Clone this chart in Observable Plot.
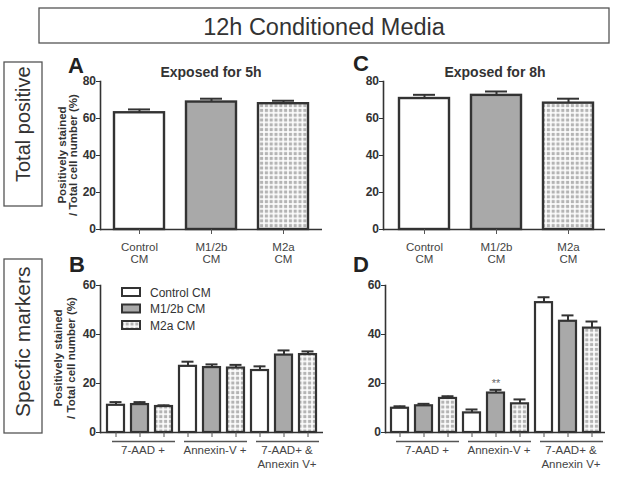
<!DOCTYPE html>
<html><head><meta charset="utf-8">
<script src="https://cdn.jsdelivr.net/npm/d3@7"></script>
<script src="https://cdn.jsdelivr.net/npm/@observablehq/plot@0.6"></script>
<style>
body{margin:0;background:#fff;}
#root{position:relative;width:642px;height:480px;overflow:hidden;background:#fff;font-family:"Liberation Sans",Arial,sans-serif;}
#root svg{position:absolute;overflow:visible;}
</style></head><body><div id="root"></div>
<script>
// ---------- data ----------
const series = ["Control CM", "M1/2b CM", "M2a CM"];
const seriesFill = ["#ffffff", "#a9a9a9", "url(#checker)"];
const totalTickLabels = ["Control\nCM", "M1/2b\nCM", "M2a\nCM"];
const markers = ["7-AAD +", "Annexin-V +", "7-AAD+ &\nAnnexin V+"];

// Panel A: exposed for 5h, total positive
const aMean = [63.1, 68.9, 68.0];
const aErr  = [1.8, 1.8, 1.6];
// Panel C: exposed for 8h, total positive
const cMean = [70.8, 72.5, 68.3];
const cErr  = [2.0, 2.1, 2.4];

// Panel B: exposed for 5h, specific markers (per series, by marker)
const bControl = [11.1, 27.0, 25.3];  const bControlErr = [1.3, 1.9, 1.7];
const bM1      = [11.4, 26.5, 31.6];  const bM1Err      = [1.0, 1.3, 1.9];
const bM2a     = [10.6, 26.3, 31.8];  const bM2aErr     = [0.5, 1.3, 1.3];
// Panel D: exposed for 8h, specific markers
const dControl = [9.9, 8.0, 53.0];    const dControlErr = [0.8, 1.4, 2.2];
const dM1      = [10.9, 16.1, 45.4];  const dM1Err      = [0.8, 1.3, 2.4];
const dM2a     = [13.9, 11.7, 42.6];  const dM2aErr     = [0.9, 1.8, 2.7];
const dSignif  = [{marker: "Annexin-V +", series: "M1/2b CM", label: "**"}];

const panelTitles = ["Exposed for 5h", "Exposed for 8h"];
const panelLetters = ["A", "B", "C", "D"];
const sideLabels = ["Total positive", "Specfic markers"];
const yLabelLines = ["Positively stained", "/ Total cell number (%)"];
const mainTitle = "12h Conditioned Media";

// ---------- helpers ----------
const FONT = '"Liberation Sans", Arial, sans-serif';
const INK = "#333";
const root = document.getElementById("root");

function place(el, left, top) {
  el.style.position = "absolute";
  el.style.left = left + "px";
  el.style.top = top + "px";
  root.appendChild(el);
}

function totalPanel(means, errs, o) {
  const rows = series.map((s, i) => ({key: s, mean: means[i], err: errs[i]}));
  return Plot.plot({
    width: o.width, height: o.height,
    marginLeft: o.ml, marginRight: o.mr, marginTop: o.mt, marginBottom: o.mb,
    style: {fontFamily: FONT, fontSize: "12px", color: INK, background: "transparent", overflow: "visible"},
    x: {type: "band", domain: series, range: o.xRange, paddingInner: 0.31, paddingOuter: 0, label: null},
    y: {domain: [0, 80], label: null},
    color: {type: "ordinal", domain: series, range: seriesFill},
    marks: [
      Plot.barY(rows, {x: "key", y: "mean", fill: "key", stroke: INK, strokeWidth: 2.4}),
      Plot.ruleX(rows, {x: "key", y1: "mean", y2: d => d.mean + d.err, stroke: INK, strokeWidth: 2}),
      Plot.tickY(rows, {x: "key", y: d => d.mean + d.err, stroke: INK, strokeWidth: 2, insetLeft: 14, insetRight: 14}),
      Plot.frame({anchor: "left", stroke: INK, strokeWidth: 1.6}),
      Plot.ruleY([0], {stroke: INK, strokeWidth: 1.6}),
      Plot.axisY({ticks: [0, 20, 40, 60, 80], tickSize: 4, tickPadding: 0.5, fontWeight: "bold", fontSize: 12, stroke: INK, fill: INK, label: null}),
      Plot.axisX({tickSize: 5, tickPadding: 8, tickFormat: d => totalTickLabels[series.indexOf(d)], lineHeight: 1.05, fontSize: 11.5, fill: "#444", stroke: "#555", label: null})
    ]
  });
}

function markerPanel(vals, errs, signif, o) {
  const keys = markers.flatMap(m => series.map(s => m + "|" + s));
  const rows = [];
  markers.forEach((m, j) => series.forEach((s, i) => {
    rows.push({key: m + "|" + s, marker: m, series: s, mean: vals[i][j], err: errs[i][j]});
  }));
  const groups = markers.map(m => ({m, k1: m + "|" + series[0], k2: m + "|" + series[1], k3: m + "|" + series[2]}));
  const sig = signif.map(d => {
    const r = rows.find(r => r.marker === d.marker && r.series === d.series);
    return {key: r.key, top: r.mean + r.err, label: d.label};
  });
  return Plot.plot({
    width: o.width, height: o.height,
    marginLeft: o.ml, marginRight: o.mr, marginTop: o.mt, marginBottom: o.mb,
    style: {fontFamily: FONT, fontSize: "12px", color: INK, background: "transparent", overflow: "visible"},
    x: {type: "band", domain: keys, range: o.xRange, paddingInner: 0.306, paddingOuter: 0, label: null},
    y: {domain: [0, 60], label: null},
    color: {type: "ordinal", domain: series, range: seriesFill},
    marks: [
      Plot.barY(rows, {x: "key", y: "mean", fill: "series", stroke: INK, strokeWidth: 2.2}),
      Plot.ruleX(rows, {x: "key", y1: "mean", y2: d => d.mean + d.err, stroke: INK, strokeWidth: 2}),
      Plot.tickY(rows, {x: "key", y: d => d.mean + d.err, stroke: INK, strokeWidth: 2, insetLeft: 2.5, insetRight: 2.5}),
      Plot.text(sig, {x: "key", y: "top", text: "label", dy: -3, lineAnchor: "bottom", fontSize: 11, fill: "#666"}),
      Plot.frame({anchor: "left", stroke: INK, strokeWidth: 1.6}),
      Plot.ruleY([0], {stroke: INK, strokeWidth: 1.6}),
      Plot.axisY({ticks: [0, 20, 40, 60], tickSize: 4, tickPadding: 0.5, fontWeight: "bold", fontSize: 12, stroke: INK, fill: INK, label: null}),
      Plot.axisX({tickSize: 5, tickFormat: () => "", stroke: "#555", label: null}),
      Plot.ruleY(groups, {y: () => 0, x1: "k1", x2: "k3", dy: 9, insetLeft: 5, insetRight: -3, stroke: "#555", strokeWidth: 1.5}),
      Plot.text(groups, {x: "k2", y: () => 0, text: "m", dy: 11, dx: 3, lineAnchor: "top", lineHeight: 1.25, fontSize: 11.5, fill: "#444"})
    ]
  });
}

// ---------- overlay: titles, boxes, labels, legend ----------
const ov = d3.select(root).append("svg")
  .attr("width", 642).attr("height", 480)
  .style("left", "0px").style("top", "0px")
  .style("font-family", FONT);

const defs = ov.append("defs");
const pat = defs.append("pattern").attr("id", "checker")
  .attr("patternUnits", "userSpaceOnUse").attr("width", 4.8).attr("height", 4.8);
pat.append("rect").attr("width", 4.8).attr("height", 4.8).attr("fill", "#fff");
pat.append("rect").attr("x", 0.8).attr("y", 0.8).attr("width", 3.2).attr("height", 3.2).attr("fill", "#b4b4b4");

// main title box
ov.append("rect").attr("x", 39).attr("y", 8).attr("width", 570).attr("height", 35)
  .attr("fill", "none").attr("stroke", "#555").attr("stroke-width", 1.3);
ov.append("text").attr("x", 324).attr("y", 34.5).attr("text-anchor", "middle")
  .attr("font-size", 23.5).attr("fill", INK).text(mainTitle);

// side boxes
const sideBoxes = [{y: 62, h: 144, base: 182, fs: 20}, {y: 259, h: 174, base: 417, fs: 21}];
sideBoxes.forEach((b, i) => {
  ov.append("rect").attr("x", 4).attr("y", b.y).attr("width", 38).attr("height", b.h)
    .attr("fill", "none").attr("stroke", "#555").attr("stroke-width", 1.3);
  ov.append("text").attr("transform", `translate(30,${b.base}) rotate(-90)`)
    .attr("font-size", b.fs).attr("fill", INK).text(sideLabels[i]);
});

// panel letters
const letterPos = [[68, 73], [69, 272], [353, 71], [353, 272]];
panelLetters.forEach((L, i) => {
  ov.append("text").attr("x", letterPos[i][0]).attr("y", letterPos[i][1])
    .attr("font-size", 22).attr("font-weight", "bold").attr("fill", "#222").text(L);
});

// panel titles
[[211, 77], [495, 77]].forEach((p, i) => {
  ov.append("text").attr("x", p[0]).attr("y", p[1]).attr("text-anchor", "middle")
    .attr("font-size", 14).attr("font-weight", "bold").attr("fill", INK).text(panelTitles[i]);
});

// y labels for A and B
[[65.5, 76.5, 155], [62, 75, 358]].forEach(p => {
  yLabelLines.forEach((t, k) => {
    ov.append("text").attr("transform", `translate(${p[k]},${p[2]}) rotate(-90)`)
      .attr("text-anchor", "middle").attr("font-size", 11.5).attr("font-weight", "bold")
      .attr("fill", INK).text(t);
  });
});

// legend (panel B)
series.forEach((s, i) => {
  const y = 288 + i * 16.5;
  ov.append("rect").attr("x", 122).attr("y", y).attr("width", 18).attr("height", 8)
    .attr("fill", seriesFill[i]).attr("stroke", INK).attr("stroke-width", 2);
  ov.append("text").attr("x", 150).attr("y", y + 8.5).attr("font-size", 12)
    .attr("fill", INK).text(s);
});

// ---------- plots ----------
place(totalPanel(aMean, aErr, {width: 330, height: 215, ml: 100, mr: 8, mt: 21, mb: 46, xRange: [113, 308]}), 0, 60);
place(totalPanel(cMean, cErr, {width: 312, height: 215, ml: 53, mr: 37, mt: 21, mb: 46, xRange: [68, 264]}), 330, 60);
place(markerPanel([bControl, bM1, bM2a], [bControlErr, bM1Err, bM2aErr], [],
  {width: 330, height: 205, ml: 100, mr: 7, mt: 10, mb: 48, xRange: [105, 318]}), 0, 275);
place(markerPanel([dControl, dM1, dM2a], [dControlErr, dM1Err, dM2aErr], dSignif,
  {width: 312, height: 205, ml: 55, mr: 37, mt: 10, mb: 48, xRange: [59, 272]}), 330, 275);
</script></body></html>
